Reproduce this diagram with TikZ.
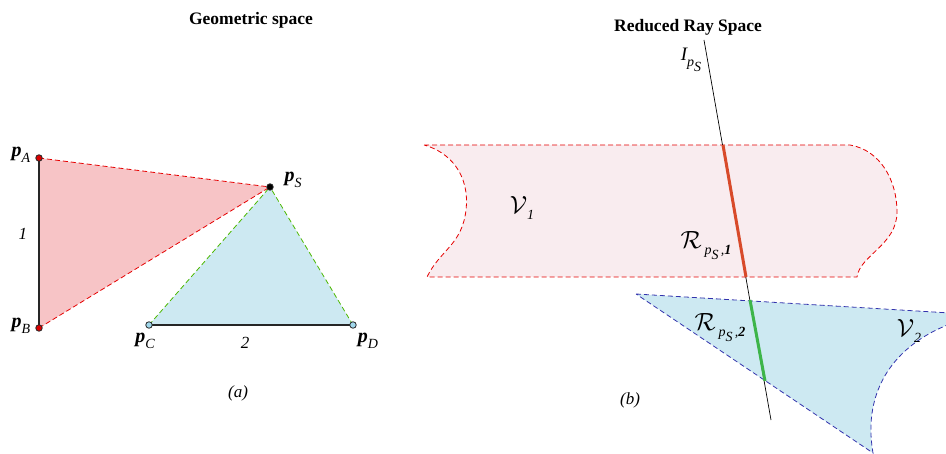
\documentclass[tikz,border=0pt]{standalone}
\usepackage{fontspec}
\setmainfont{Liberation Serif}
\begin{document}
\begin{tikzpicture}[x=1pt,y=-1pt,
  dsh/.style={dash pattern=on 5pt off 3pt, line width=0.8pt},
  edge/.style={line width=2.2pt, draw=black!85},
  pt/.style={circle, draw=black!85, line width=0.8pt, inner sep=0pt, minimum size=6.5pt},
  plab/.style={font=\fontsize{20}{20}\selectfont\bfseries\itshape, inner sep=0pt},
  lab/.style={font=\fontsize{17}{17}\selectfont\itshape, inner sep=0pt},
  ttl/.style={font=\fontsize{17.5}{18}\selectfont\bfseries, inner sep=0pt}]
\useasboundingbox (0,0) rectangle (946,454);
\newcommand{\subl}[1]{\raisebox{-5.5pt}{\fontsize{14}{14}\selectfont\mdseries\itshape #1}}
\newcommand{\bigcal}[1]{{\fontsize{23}{23}\selectfont$\mathcal{#1}$}}
% ---------- left ----------
\node[ttl] (t1) at (251,20) {Geometric space};
\coordinate (A) at (39,158);
\coordinate (B) at (39,328);
\coordinate (S) at (270,187);
\coordinate (C) at (149,325);
\coordinate (D) at (353,325);
\fill[color={rgb,255:red,247;green,196;blue,198}] (A) -- (B) -- (S) -- cycle;
\fill[color={rgb,255:red,205;green,233;blue,242}] (C) -- (D) -- (S) -- cycle;
\draw[dsh, red!90!black] (A) -- (S);
\draw[dsh, red!90!black] (B) -- (S);
\draw[dsh, green!60!black!70!yellow] (C) -- (S);
\draw[dsh, green!60!black!70!yellow] (D) -- (S);
\draw[edge] (A) -- (B);
\draw[edge] (C) -- (D);
\node[pt, fill=red!85!black] (nA) at (A) {};
\node[pt, fill=red!85!black] (nB) at (B) {};
\node[pt, fill=black] (nS) at (S) {};
\node[pt, fill={rgb,255:red,160;green,215;blue,235}] (nC) at (C) {};
\node[pt, fill={rgb,255:red,160;green,215;blue,235}] (nD) at (D) {};
\node[plab] (lA) at (21,155) {p\subl{A}};
\node[plab] (lB) at (21,326) {p\subl{B}};
\node[plab] (lS) at (293,180) {p\subl{S}};
\node[plab] (lC) at (145,341) {p\subl{C}};
\node[plab] (lD) at (368,341) {p\subl{D}};
\node[lab] (one) at (23,234) {1};
\node[lab] (two) at (245,343) {2};
\node[lab] (ca) at (238,393) {(a)};
% ---------- right ----------
\node[ttl] (t2) at (688,27) {Reduced Ray Space};
\fill[color={rgb,255:red,249;green,236;blue,239}]
  (424,145) -- (850,145) .. controls (880,150) and (897,180) .. (897,212)
  .. controls (897,245) and (860,255) .. (857,277) -- (427,277)
  .. controls (440,250) and (462,245) .. (466,210)
  .. controls (470,175) and (450,152) .. (424,145);
\draw[dsh, red!90!black]
  (424,145) -- (850,145) .. controls (880,150) and (897,180) .. (897,212)
  .. controls (897,245) and (860,255) .. (857,277) -- (427,277)
  .. controls (440,250) and (462,245) .. (466,210)
  .. controls (470,175) and (450,152) .. (424,145);
\begin{scope}
\clip (0,0) rectangle (946,454);
\fill[color={rgb,255:red,205;green,233;blue,242}]
  (636,294) -- (950,313) -- (950,324) .. controls (895,345) and (862,390) .. (873,453) -- cycle;
\draw[dsh, blue!60!black!80!white]
  (636,294) -- (950,313) (950,324) .. controls (895,345) and (862,390) .. (873,453) -- (636,294);
\end{scope}
\coordinate (It) at (704,40);
\coordinate (Ib) at (771,420);
\draw[line width=0.7pt] (It) -- (Ib);
\coordinate (r1) at (723,145);
\coordinate (r2) at (746,277);
\coordinate (g1) at (750,300);
\coordinate (g2) at (765,381);
\draw[line width=3pt, color={rgb,255:red,216;green,74;blue,42}] (r1) -- (r2);
\draw[line width=3pt, color={rgb,255:red,61;green,181;blue,74}] (g1) -- (g2);
\node[lab, font=\fontsize{19}{19}\selectfont\itshape] (lI) at (691,60) {I\subl{p\subl{S}}};
\node[lab] (V1) at (522,208) {\bigcal{V}\subl{1}};
\node[lab] (V2) at (909,331) {\bigcal{V}\subl{2}};
\node[lab] (R1) at (706,246) {\bigcal{R}\,\subl{p\subl{S}\,,\textbf{1}}};
\node[lab] (R2) at (720,328) {\bigcal{R}\,\subl{p\subl{S}\,,\textbf{2}}};
\node[lab] (cb) at (630,400) {(b)};
\end{tikzpicture}
\end{document}
